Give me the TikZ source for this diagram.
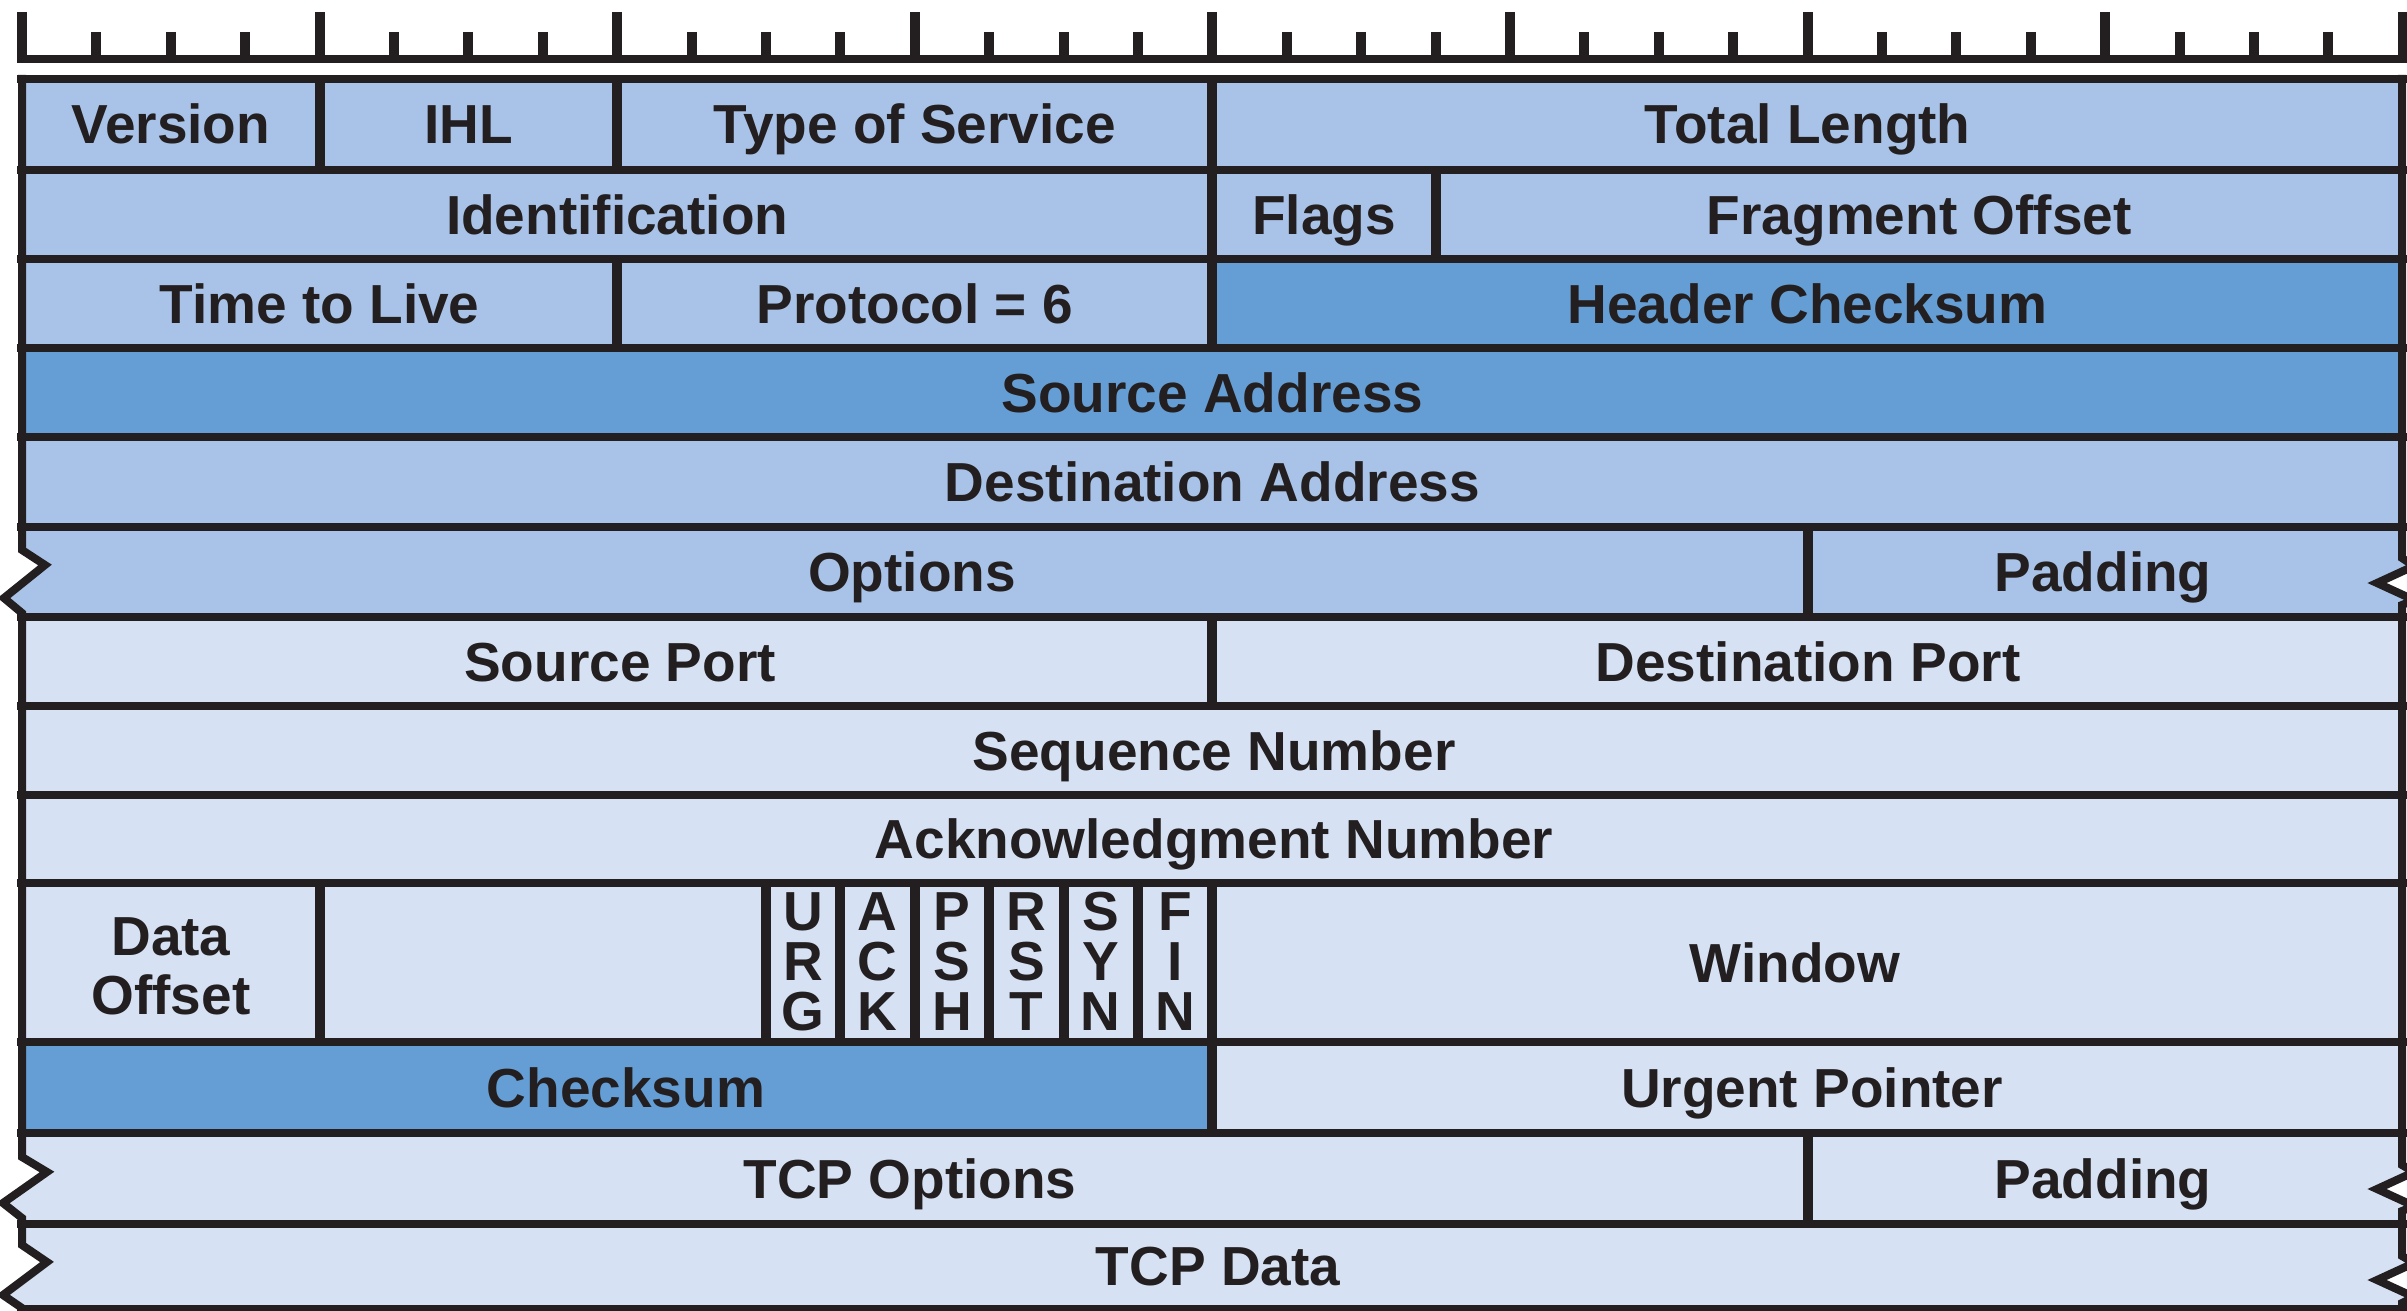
\documentclass[tikz,border=0pt]{standalone}
\usepackage{fontspec}
\setmainfont{Liberation Sans}
\definecolor{ipblue}{HTML}{A8C3E7}
\definecolor{darkblue}{HTML}{659ED4}
\definecolor{tcpblue}{HTML}{D6E2F4}
\definecolor{ink}{HTML}{231F20}
\def\bw{74.4}
\begin{document}
\begin{tikzpicture}[x=1pt,y=-1pt,
  hline/.style={draw=ink,line width=8pt},
  vline/.style={draw=ink,line width=10pt},
  edgeline/.style={draw=ink,line width=8pt,line join=miter},
  lbl/.style={font=\bfseries\fontsize{55}{59}\selectfont,text=ink,inner sep=0pt,text height=39pt,text depth=0pt},
  flagl/.style={font=\bfseries\fontsize{55}{50}\selectfont,text=ink,inner sep=0pt,align=center,text height=139pt,text depth=0pt}]
\useasboundingbox (0,0) rectangle (2407,1311);
% ---------- fills ----------
\fill[ipblue] (22,79) rectangle (2403,259);
\fill[ipblue] (22,259) rectangle (1212,348);
\fill[darkblue] (1212,259) rectangle (2403,348);
\fill[darkblue] (22,348) rectangle (2403,437);
\fill[ipblue] (22,437) rectangle (2403,527);
\fill[ipblue] (22,527) -- (22,550) -- (45,565) -- (4,598) -- (22,613) -- (22,617)
  -- (2402,617) -- (2402,605) -- (2414,600) -- (2377,583) -- (2414,566) -- (2402,558) -- (2402,527) -- cycle;
\fill[tcpblue] (22,617) rectangle (2403,1042);
\fill[darkblue] (22,1042) rectangle (1212,1133);
\fill[tcpblue] (1212,1042) rectangle (2403,1133);
\fill[tcpblue] (22,1133) -- (22,1157) -- (47,1172) -- (3,1203) -- (22,1218) -- (22,1224)
  -- (2402,1224) -- (2402,1211) -- (2414,1206) -- (2377,1189) -- (2414,1172) -- (2402,1165) -- (2402,1133) -- cycle;
\fill[tcpblue] (22,1224) -- (22,1245) -- (47,1262) -- (3,1295) -- (22,1308) -- (22,1320)
  -- (2402,1320) -- (2402,1303) -- (2414,1297) -- (2377,1280) -- (2414,1263) -- (2402,1256) -- (2402,1224) -- cycle;
% ---------- ruler ----------
\draw[hline] (17,59) -- (2407,59);
\foreach \i in {0,...,32}{
  \pgfmathsetmacro{\xx}{22+\i*\bw}
  \pgfmathsetmacro{\yt}{ifthenelse(mod(\i,4)==0,12,32)}
  \draw[vline] (\xx,\yt) -- (\xx,59);
}
% ---------- horizontal lines ----------
\foreach \yy in {79,170,259,348,437,527,617,706,795,883,1042,1133,1224,1309}{
  \draw[hline] (17,\yy) -- (2407,\yy);
}
% ---------- outer edges ----------
\draw[edgeline] (22,75) -- (22,550) -- (45,565) -- (4,598) -- (22,613) -- (22,1157) -- (47,1172)
  -- (3,1203) -- (22,1218) -- (22,1245) -- (47,1262) -- (3,1295) -- (22,1308) -- (22,1315);
\draw[edgeline] (2402,75) -- (2402,558) -- (2414,566) -- (2377,583) -- (2414,600) -- (2402,605)
  -- (2402,1165) -- (2414,1172) -- (2377,1189) -- (2414,1206) -- (2402,1211) -- (2402,1256)
  -- (2414,1263) -- (2377,1280) -- (2414,1297) -- (2402,1303) -- (2402,1315);
% ---------- vertical dividers ----------
\foreach \b/\ya/\yb in {4/79/170,8/79/170,16/79/170,16/170/259,19/170/259,8/259/348,16/259/348,
  24/527/617,16/617/706,4/883/1042,10/883/1042,11/883/1042,12/883/1042,13/883/1042,14/883/1042,
  15/883/1042,16/883/1042,16/1042/1133,24/1133/1224}{
  \pgfmathsetmacro{\xx}{22+\b*\bw}
  \draw[vline] (\xx,\ya) -- (\xx,\yb);
}
% ---------- labels ----------
\node[lbl] (ver) at ({22+2*\bw},124.5) {Version};
\node[lbl] (ihl) at ({22+6*\bw},124.5) {IHL};
\node[lbl] (tos) at ({22+12*\bw},124.5) {Type of Service};
\node[lbl] (tl) at ({22+24*\bw},124.5) {Total Length};
\node[lbl] (ident) at ({22+8*\bw},214.5) {Identification};
\node[lbl] (flg) at ({22+17.5*\bw},214.5) {Flags};
\node[lbl] (fo) at ({22+25.5*\bw},214.5) {Fragment Offset};
\node[lbl] (ttl) at ({22+4*\bw},303.5) {Time to Live};
\node[lbl] (proto) at ({22+12*\bw},303.5) {Protocol = 6};
\node[lbl] (hcs) at ({22+24*\bw},303.5) {Header Checksum};
\node[lbl] (sa) at ({22+16*\bw},392.5) {Source Address};
\node[lbl] (da) at ({22+16*\bw},482) {Destination Address};
\node[lbl] (opt) at (912,572) {Options};
\node[lbl] (pad) at (2103,572) {Padding};
\node[lbl] (sp) at (620,661.5) {Source Port};
\node[lbl] (dp) at (1808,661.5) {Destination Port};
\node[lbl] (seq) at (1214,750.5) {Sequence Number};
\node[lbl] (ackn) at (1214,839) {Acknowledgment Number};
\node[lbl,align=center,text height=98pt] (doff) at (171,965) {Data\\Offset};
\node[flagl] (urg) at ({22+10.5*\bw},961) {U\\R\\G};
\node[flagl] (ackf) at ({22+11.5*\bw},961) {A\\C\\K};
\node[flagl] (psh) at ({22+12.5*\bw},961) {P\\S\\H};
\node[flagl] (rst) at ({22+13.5*\bw},961) {R\\S\\T};
\node[flagl] (syn) at ({22+14.5*\bw},961) {S\\Y\\N};
\node[flagl] (fin) at ({22+15.5*\bw},961) {F\\I\\N};
\node[lbl] (win) at (1795,962.5) {Window};
\node[lbl] (cks) at (626,1087.5) {Checksum};
\node[lbl] (urgp) at (1812,1087.5) {Urgent Pointer};
\node[lbl] (tcpopt) at (910,1178.5) {TCP Options};
\node[lbl] (tcppad) at (2103,1178.5) {Padding};
\node[lbl] (tcpdata) at (1218,1266) {TCP Data};
\end{tikzpicture}
\end{document}
